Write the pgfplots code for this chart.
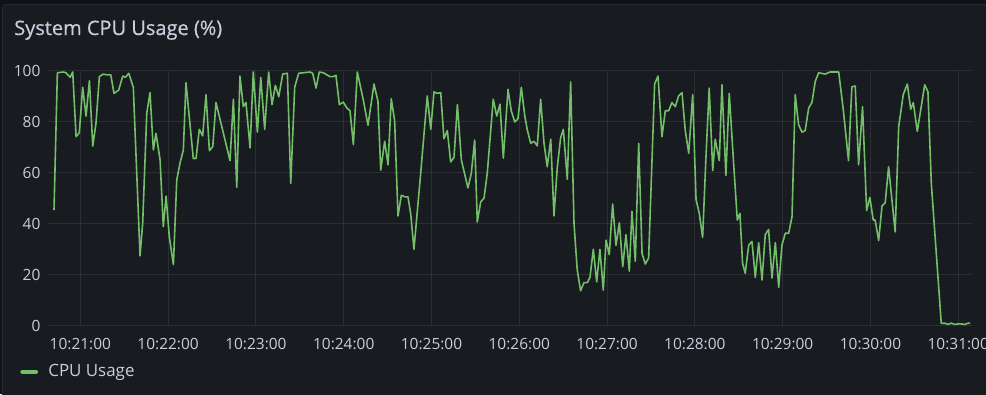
\documentclass[border=0pt]{standalone}
\usepackage{pgfplots}
\usepackage{pgfplotstable}
\pgfplotsset{compat=1.18}
\usepackage{fontspec}
\setmainfont{Open Sans}
\newfontfamily\titlefont{Open Sans}[FakeBold=0.5]
\definecolor{outerbg}{HTML}{111217}
\definecolor{panelbg}{HTML}{181B1F}
\definecolor{panelborder}{HTML}{26282D}
\definecolor{gridcol}{HTML}{2B2E33}
\definecolor{txt}{HTML}{CCCCDC}
\definecolor{cpugreen}{HTML}{73BF69}

% t = seconds after 10:20:00, v = CPU usage in %
\pgfplotstableread{
t v
42.0 45.4
44.3 99.3
48.4 99.6
50.2 99.3
53.0 97.5
54.8 99.6
57.1 74.2
59.3 75.8
61.6 93.6
63.9 82.3
66.2 96.2
68.5 70.5
70.7 79.5
73.0 97.8
75.7 98.8
78.0 98.5
80.8 98.5
83.0 91.2
86.2 92.5
89.0 98.0
90.8 97.5
93.1 99.1
96.2 93.6
100.8 27.4
102.6 40.2
105.4 83.4
107.6 91.5
109.9 69.0
111.7 75.5
114.5 65.1
116.7 38.9
118.6 50.9
120.8 34.9
123.6 24.0
125.9 57.2
128.1 63.8
130.4 69.0
132.2 95.4
137.2 65.6
139.1 65.7
141.3 77.1
143.6 74.5
145.9 90.7
148.2 68.7
150.5 70.3
152.7 87.6
162.3 64.8
164.6 88.9
166.9 54.3
169.1 98.0
171.4 86.0
173.2 87.6
176.0 69.8
178.2 99.6
181.0 76.0
183.3 97.5
186.0 77.1
188.7 99.6
191.0 86.8
193.3 94.4
195.6 89.9
198.3 98.8
201.5 99.1
203.8 55.9
206.5 93.6
209.2 99.1
217.0 99.6
218.8 99.1
221.1 93.3
223.3 99.6
226.1 99.3
230.6 97.8
232.9 97.8
234.7 98.3
237.0 86.8
239.7 87.8
242.1 85.5
244.3 84.4
246.6 71.1
249.3 99.6
253.4 88.6
256.6 78.7
260.7 94.9
263.4 88.1
265.3 61.1
268.0 72.4
270.3 63.2
272.5 89.1
274.8 80.5
277.1 43.1
279.4 51.2
281.7 50.6
283.9 50.6
285.8 43.9
288.0 30.0
292.6 59.8
297.1 90.2
299.5 77.1
301.7 91.8
304.0 91.2
306.3 91.5
308.5 73.4
310.8 76.6
313.1 64.3
315.4 66.1
317.7 86.8
320.4 65.1
324.9 54.1
327.2 59.8
329.5 72.9
331.3 40.7
333.6 48.6
335.9 50.1
338.1 59.8
342.2 88.9
344.6 82.3
346.8 87.0
349.1 65.8
352.3 92.8
354.5 84.4
356.9 80.0
359.1 81.3
361.4 93.6
363.7 82.6
365.5 76.8
367.8 71.6
370.0 72.4
372.3 70.6
374.6 88.9
376.9 71.6
379.1 62.4
381.5 73.2
383.7 43.1
386.0 62.4
388.3 74.0
390.1 77.1
392.8 57.5
395.1 95.7
397.4 40.2
399.6 21.9
401.9 13.7
404.2 16.9
406.5 16.9
408.3 19.0
410.6 30.0
412.9 17.2
415.1 30.0
417.4 14.0
419.3 33.6
421.5 27.9
423.8 47.8
426.1 31.6
428.4 40.4
430.7 23.2
432.9 35.7
435.2 21.4
437.0 44.9
439.3 25.3
441.6 71.6
443.9 28.4
446.1 24.2
448.4 26.6
452.5 94.9
454.8 98.0
457.5 74.2
459.8 84.4
462.1 84.4
464.3 87.6
466.6 86.0
468.9 90.2
471.2 91.5
473.4 76.8
475.8 67.7
478.5 90.7
480.8 49.6
483.0 44.1
485.3 34.7
487.6 66.4
489.8 93.3
492.2 60.9
493.9 73.2
496.7 64.8
498.5 94.6
501.2 59.0
503.5 91.2
506.2 66.4
509.0 41.5
510.8 44.1
512.6 24.5
514.4 20.6
516.8 31.6
519.0 33.1
521.3 19.0
523.6 32.6
525.9 17.9
528.1 35.7
530.4 37.8
532.7 18.7
535.0 32.6
537.3 15.1
539.5 31.6
541.8 36.3
544.1 36.3
546.4 42.8
548.6 90.7
550.9 78.9
553.2 76.0
555.4 76.6
557.8 85.5
560.0 87.6
562.3 96.0
564.6 99.3
569.1 98.8
572.3 99.6
578.3 99.6
581.4 85.0
585.0 64.8
587.3 93.8
589.6 94.1
591.9 63.2
594.6 86.0
597.4 45.2
599.6 50.4
601.9 41.5
603.2 41.5
605.6 33.4
607.9 47.0
610.1 48.3
612.4 62.4
616.9 36.8
619.3 78.1
622.4 90.7
625.2 94.9
627.5 85.0
629.3 87.6
632.0 76.3
637.1 94.6
639.3 91.8
641.6 55.9
648.4 0.9
650.8 1.0
653.0 0.5
655.3 1.0
657.6 0.5
659.9 0.7
662.1 0.7
664.5 0.5
666.7 1.0
668.1 1.0
}\cpudata

\begin{document}
\begin{tikzpicture}
\useasboundingbox (0,0) rectangle (739.5pt,295.5pt);
\clip (0,0) rectangle (739.5pt,295.5pt);
\fill[outerbg] (0,0) rectangle (739.5pt,295.5pt);
\filldraw[fill=panelbg, draw=panelborder, line width=0.75pt, rounded corners=2pt] (2pt,-10pt) rectangle (750pt,292pt);
\node[anchor=base west, inner sep=0pt, text=txt, font=\titlefont\fontsize{15}{18}\selectfont] at (10.5pt,269.25pt) {System CPU Usage (\%)};
\begin{axis}[
  at={(36.225pt,51.225pt)}, anchor=south west,
  scale only axis, width=692.55pt, height=191.03pt,
  xmin=38.1, xmax=669.2, ymin=0, ymax=100,
  axis line style={draw=none},
  major tick length=0pt,
  grid=major,
  major grid style={gridcol, line width=0.75pt},
  xtick={60,120,180,240,300,360,420,480,540,600,660},
  xticklabels={10:21:00,10:22:00,10:23:00,10:24:00,10:25:00,10:26:00,10:27:00,10:28:00,10:29:00,10:30:00,10:31:00},
  ytick={0,20,40,60,80,100},
  yticklabels={0,20,40,60,80,100},
  tick label style={text=txt, font=\fontsize{11.6}{13}\selectfont},
  xticklabel style={anchor=base, inner sep=0pt, yshift=-17.7pt},
  yticklabel style={anchor=east, inner sep=0pt, xshift=-5.7pt},
  legend style={at={(-0.0303,-0.1802)}, anchor=west, draw=none, fill=none,
    inner sep=0pt, outer sep=0pt, text=txt, font=\fontsize{12.7}{15}\selectfont,
    nodes={inner sep=0pt},
    /tikz/every odd column/.append style={column sep=7.7pt}},
  legend image code/.code={\draw[line width=3pt, line cap=round, cpugreen] (0pt,0pt) -- (10.3pt,0pt);},
]
\addplot[cpugreen, line width=1.2pt, line join=round] table[x=t,y=v] {\cpudata};
\addlegendentry{CPU Usage}
\end{axis}
\end{tikzpicture}
\end{document}
